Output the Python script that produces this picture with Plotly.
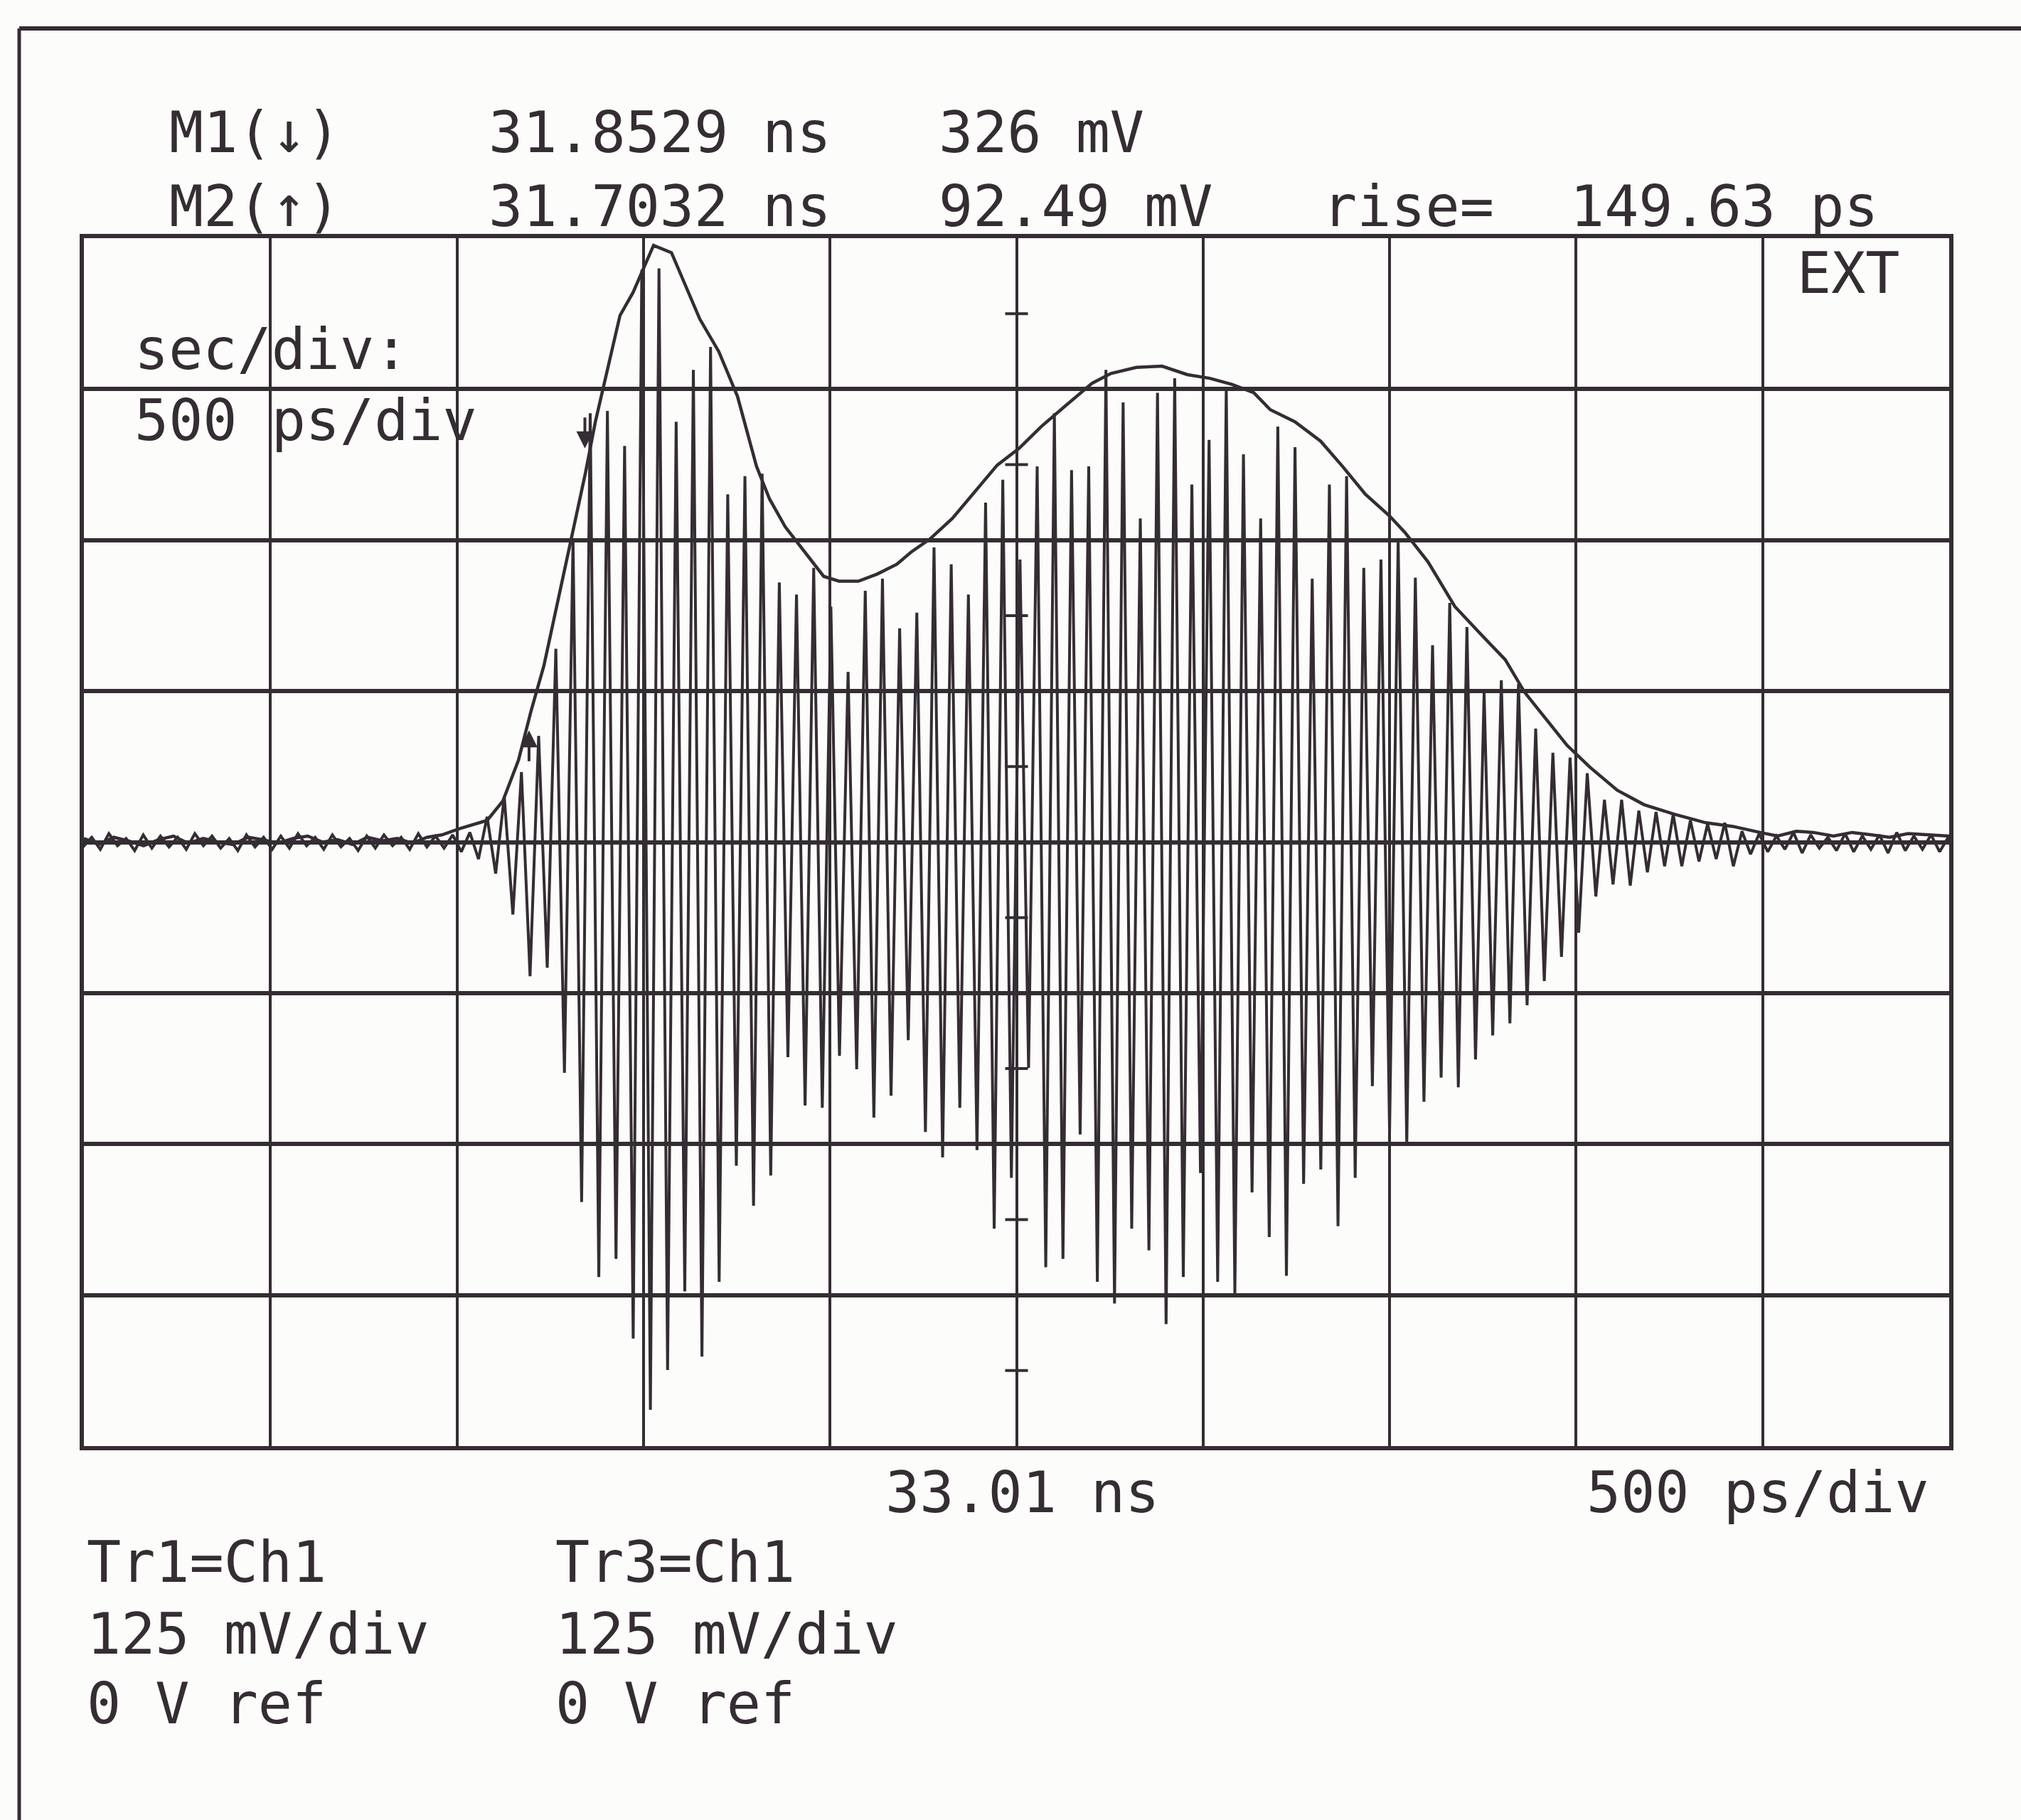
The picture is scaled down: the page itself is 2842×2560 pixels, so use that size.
import plotly.graph_objects as go

# ---- sampling-scope record (ns / mV) ----
X_LEFT, X_RIGHT = 30.51, 35.51      # 500 ps/div, centre 33.01 ns
Y_LOW, Y_HIGH = -500.0, 500.0       # 125 mV/div, 0 V ref

# Tr1: alternating positive / negative extremes of each carrier cycle,
# cycle index -30 .. 80, first positive extreme of cycle 0 at PEAK0_NS
PEAK0_NS = 31.8672
CYCLE_NS = 0.04608
CYCLE_FIRST = -30

TR1_PEAK_MV = [
    5, 4, 7, 3, 6, 5, 4, 7, 5, 3, 6, 4, 5, 7, 4, 6, 3, 5, 6, 4, 7, 5, 6,
    8, 21, 38, 58, 88, 160, 250,
    355, 357, 328, 474, 475, 348, 391, 410, 288, 303,
    305, 215, 205, 227, 195, 141, 208, 218, 177, 190,
    244, 230, 205, 281, 300, 234, 311, 355, 308, 311,
    391, 364, 268, 372, 384, 296, 333, 377, 321, 268,
    344, 327, 218, 296, 303, 227, 234, 250, 219, 163,
    198, 178, 124, 134, 131, 94, 74, 70, 57, 35,
    35, 26, 25, 23, 18, 15, 16, 9,
    7, 5, 8, 6, 4, 7, 5, 6, 8, 5, 6, 4, 6,
]

TR1_TROUGH_MV = [
    -4, -6, -3, -7, -5, -4, -6, -3, -5, -7, -4, -6, -5, -3, -6, -4, -7, -5, -3, -6, -4, -5, -8,
    -14, -26, -60, -111, -104, -191, -298,
    -360, -345, -411, -470, -437, -372, -426, -364, -268, -301,
    -276, -178, -218, -220, -177, -188, -228, -210, -164, -240,
    -261, -220, -255, -320, -278, -187, -352, -345, -242, -364,
    -382, -320, -338, -399, -360, -274, -364, -374, -290, -327,
    -359, -283, -271, -318, -278, -202, -240, -250, -215, -195,
    -203, -180, -160, -150, -135, -115, -95, -75, -45, -35,
    -36, -25, -20, -20, -16, -14, -20, -10,
    -8, -6, -9, -5, -7, -8, -6, -9, -7, -6, -8, -5, -7,
]

# Tr3: peak-hold envelope of the same channel
ENV_NS = [
    30.51, 30.55, 30.59, 30.63, 30.67, 30.71, 30.75, 30.79, 30.83, 30.87,
    30.91, 30.95, 30.99, 31.03, 31.07, 31.11, 31.15, 31.19, 31.23, 31.27,
    31.31, 31.35, 31.39, 31.43, 31.47,
    31.515, 31.591, 31.633, 31.675, 31.709, 31.743, 31.785, 31.820, 31.854, 31.881,
    31.909, 31.947, 31.982, 32.016, 32.037, 32.085, 32.127, 32.161, 32.212, 32.262,
    32.313, 32.348, 32.390, 32.441, 32.493, 32.534, 32.586, 32.637, 32.689, 32.727,
    32.778, 32.838, 32.906, 32.958, 33.017, 33.076, 33.144, 33.213, 33.263, 33.331,
    33.400, 33.468, 33.528, 33.587, 33.646, 33.690, 33.756, 33.825, 33.884, 33.945,
    34.010, 34.052, 34.113, 34.185, 34.258, 34.320, 34.372, 34.423, 34.486, 34.547,
    34.620, 34.692, 34.774, 34.858, 34.930, 35.003, 35.05, 35.10, 35.146, 35.20,
    35.25, 35.302, 35.35, 35.40, 35.457, 35.51,
]
ENV_MV = [
    3, -2, 4, 1, -3, 2, 5, -1, 3, 0, -2, 4, 2, -1, 3, 5, 0, 2, -2, 4, 1, 3, -1, 4, 6,
    11, 18, 34, 68, 109, 146, 207, 257, 305, 348,
    385, 436, 455, 480, 494, 488, 457, 433, 406, 369,
    311, 284, 261, 241, 220, 216, 216, 222, 230, 240,
    251, 268, 293, 312, 326, 344, 362, 380, 388, 393,
    394, 387, 384, 379, 372, 358, 348, 332, 311, 288,
    270, 256, 232, 195, 171, 151, 124, 104, 80, 62,
    43, 31, 23, 16, 13, 8, 5, 9, 8, 5,
    8, 6, 4, 7, 6, 5,
]

# Markers
M1_NS, M1_MV = 31.8529, 326.0
M2_NS, M2_MV = 31.7032, 92.49

INK = "#342d33"
PAPER = "#fcfcfa"
FONT = "DejaVu Sans Mono"

W, H = 2842, 2560
PLOT_L, PLOT_R, PLOT_T, PLOT_B = 118, 2741, 335, 2034


def px(x, y):
    """Page pixel -> paper fraction of the plotting area."""
    return (x - PLOT_L) / (PLOT_R - PLOT_L), (PLOT_B - y) / (PLOT_B - PLOT_T)


# Build the Tr1 polyline: positive extreme, then negative extreme half a cycle later
tr1_t, tr1_v = [], []
for k, (pk, tr) in enumerate(zip(TR1_PEAK_MV, TR1_TROUGH_MV)):
    t_pk = PEAK0_NS + (CYCLE_FIRST + k) * CYCLE_NS
    tr1_t += [t_pk, t_pk + CYCLE_NS / 2]
    tr1_v += [pk, tr]

fig = go.Figure()
fig.add_trace(go.Scatter(x=tr1_t, y=tr1_v, mode="lines",
                         line=dict(color=INK, width=4), name="Tr1",
                         hoverinfo="skip"))
fig.add_trace(go.Scatter(x=ENV_NS, y=ENV_MV, mode="lines",
                         line=dict(color=INK, width=4.5), name="Tr3",
                         hoverinfo="skip"))

shapes = []
# half-division ticks on the vertical centre axis
tick_dx = 16 / ((PLOT_R - PLOT_L) / (X_RIGHT - X_LEFT))
x_mid = (X_LEFT + X_RIGHT) / 2
for yv in (-437.5, -312.5, -187.5, -62.5, 62.5, 187.5, 312.5, 437.5):
    shapes.append(dict(type="line", xref="x", yref="y",
                       x0=x_mid - tick_dx, x1=x_mid + tick_dx, y0=yv, y1=yv,
                       line=dict(color=INK, width=4)))

# page frame (top and left edges)
x0, y0 = px(27, 40)
x1, _ = px(W + 5, 40)
_, y1 = px(27, H + 5)
shapes.append(dict(type="line", xref="paper", yref="paper", x0=x0, x1=x1, y0=y0, y1=y0,
                   line=dict(color=INK, width=6)))
shapes.append(dict(type="line", xref="paper", yref="paper", x0=x0, x1=x0, y0=y0, y1=y1,
                   line=dict(color=INK, width=5)))

annotations = []

# marker arrows on the trace
annotations.append(dict(x=M1_NS, y=M1_MV, xref="x", yref="y", text="", showarrow=True,
                        ax=0, ay=-45, arrowhead=2, arrowsize=1.2, arrowwidth=4,
                        arrowcolor=INK))
annotations.append(dict(x=M2_NS, y=M2_MV, xref="x", yref="y", text="", showarrow=True,
                        ax=0, ay=45, arrowhead=2, arrowsize=1.2, arrowwidth=4,
                        arrowcolor=INK))


def label(text, x, y):
    ax, ay = px(x, y)
    annotations.append(dict(text=text, x=ax, y=ay, xref="paper", yref="paper",
                            xanchor="left", yanchor="middle", showarrow=False,
                            font=dict(family=FONT, size=80, color=INK)))


label("M1(↓)", 236, 187)
label("31.8529 ns", 685, 187)
label("326 mV", 1318, 187)
label("M2(↑)", 236, 290)
label("31.7032 ns", 685, 290)
label("92.49 mV", 1318, 290)
label("rise=", 1858, 290)
label("149.63 ps", 2206, 290)
label("EXT", 2525, 384)
label("sec/div:", 187, 491)
label("500 ps/div", 187, 591)
label("33.01 ns", 1243, 2099)
label("500 ps/div", 2229, 2099)
label("Tr1=Ch1", 120, 2197)
label("125 mV/div", 120, 2298)
label("0 V ref", 120, 2396)
label("Tr3=Ch1", 779, 2197)
label("125 mV/div", 779, 2298)
label("0 V ref", 779, 2396)

fig.update_layout(
    width=W, height=H, autosize=False,
    margin=dict(l=PLOT_L, r=W - PLOT_R, t=PLOT_T, b=H - PLOT_B, pad=0),
    paper_bgcolor=PAPER, plot_bgcolor=PAPER,
    showlegend=False,
    shapes=shapes, annotations=annotations,
    xaxis=dict(range=[X_LEFT, X_RIGHT], tick0=X_LEFT, dtick=0.5,
               showgrid=True, gridcolor=INK, gridwidth=4, zeroline=False,
               showticklabels=False, ticks="", showline=True, mirror=True,
               linecolor=INK, linewidth=6, fixedrange=True),
    yaxis=dict(range=[Y_LOW, Y_HIGH], tick0=0, dtick=125,
               showgrid=True, gridcolor=INK, gridwidth=6, zeroline=True,
               zerolinecolor=INK, zerolinewidth=6,
               showticklabels=False, ticks="", showline=True, mirror=True,
               linecolor=INK, linewidth=6, fixedrange=True),
)

fig.write_html("out.html")
